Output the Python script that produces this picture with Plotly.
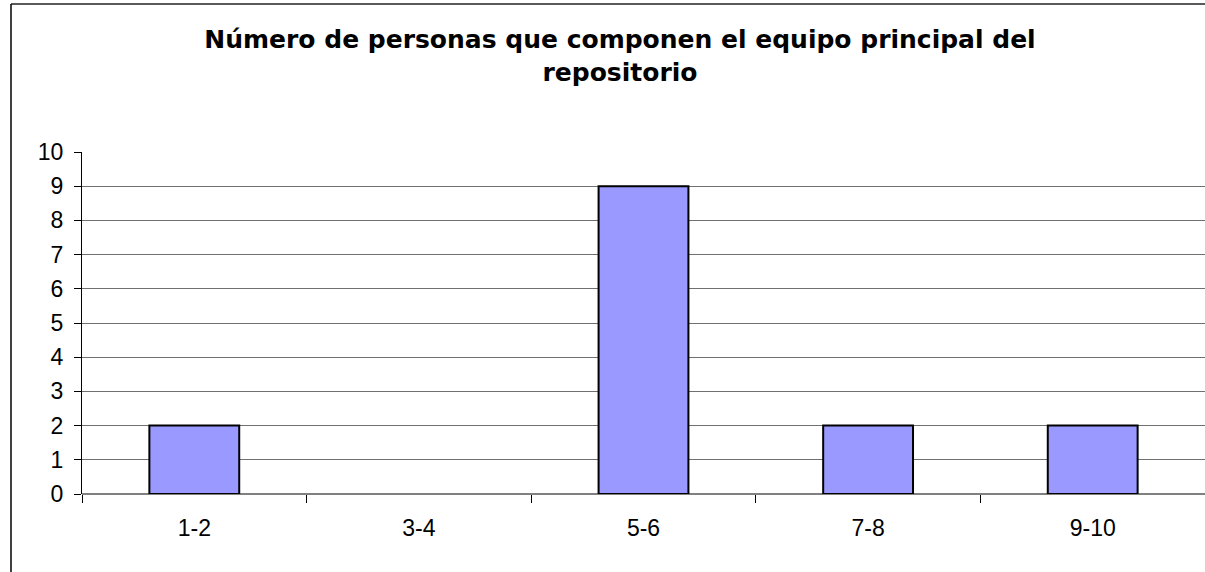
import plotly.graph_objects as go

categories = ["1-2", "3-4", "5-6", "7-8", "9-10"]
values = [2, 0, 9, 2, 2]
y_ticks = list(range(0, 11))
title_text = "Número de personas que componen el equipo principal del<br>repositorio"

W, H = 1205, 572
L, R, T, B = 82, 0, 152, 78
pw, ph = W - L - R, H - T - B

fig = go.Figure(go.Bar(
    x=categories, y=values,
    marker=dict(color="#9999FF",
                line=dict(color="#000000", width=[2 if v else 0 for v in values])),
    width=0.4,
))

def px_to_paper_x(px):
    return (px - L) / pw

def px_to_paper_y(py):
    return (H - B - py) / ph

fig.update_layout(
    width=W, height=H,
    margin=dict(l=L, r=R, t=T, b=B, pad=0),
    paper_bgcolor="white", plot_bgcolor="white",
    showlegend=False,
    font=dict(family="Liberation Sans, Arial, sans-serif", size=23, color="black"),
    title=dict(
        text="<b>" + title_text + "</b>",
        x=620 / W, xanchor="center",
        y=1 - 48 / H, yanchor="top",
        font=dict(family="DejaVu Sans, sans-serif", size=25, color="black"),
    ),
    xaxis=dict(
        type="category",
        range=[-0.5, 4.5],
        showgrid=False,
        showline=False,
        ticks="outside", tickson="boundaries", ticklen=8, tickcolor="#000000", tickwidth=1,
        tickfont=dict(size=23),
        ticklabelstandoff=18,
    ),
    yaxis=dict(
        range=[0, 10],
        tickvals=y_ticks,
        showgrid=True, gridcolor="#707070", gridwidth=1,
        zeroline=True, zerolinecolor="#808080", zerolinewidth=2,
        showline=True, linecolor="#000000", linewidth=1,
        ticks="outside", ticklen=7, tickcolor="#000000",
        tickfont=dict(size=23),
        ticklabelstandoff=6,
    ),
    shapes=[
        dict(type="line", xref="paper", yref="paper",
             x0=px_to_paper_x(11), x1=px_to_paper_x(1210),
             y0=px_to_paper_y(4), y1=px_to_paper_y(4),
             line=dict(color="#222222", width=1.5)),
        dict(type="line", xref="paper", yref="paper",
             x0=px_to_paper_x(11), x1=px_to_paper_x(11),
             y0=px_to_paper_y(4), y1=px_to_paper_y(580),
             line=dict(color="#000000", width=1.5)),
    ],
)

fig.write_html("out.html", config={"displayModeBar": False},
               post_script="document.body.style.margin='0';document.body.style.overflow='hidden';")
